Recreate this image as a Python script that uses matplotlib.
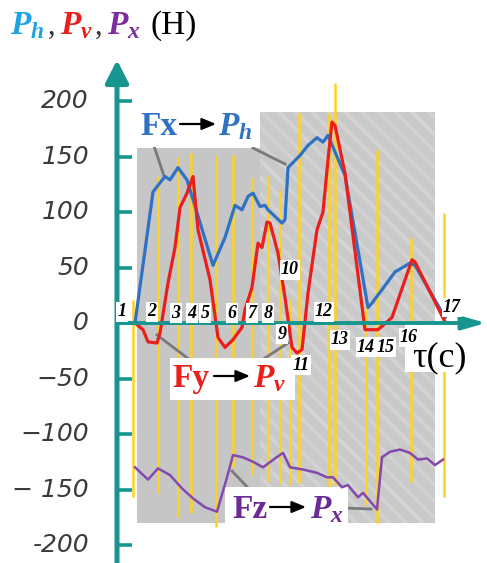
""" Forces on the tool: Ph, Pv, Px over time, with the 17 marked moments """

import matplotlib
matplotlib.use("Agg")
import matplotlib.pyplot as plt
import matplotlib.transforms as mtrans
from matplotlib.patches import Polygon, Rectangle

# Ph (Fx), blue
phTime = [0, 1.8, 2.3, 3.0, 3.5, 4.3, 5.2, 7.8, 9.0, 10.0,
          10.7, 11.3, 11.8, 12.5, 13.0, 13.3, 14.7, 15.0, 15.3, 16.5,
          17.3, 18.2, 18.8, 19.3, 21.0, 23.3, 23.7, 24.7, 26.0, 27.5,
          28.0, 31.0]
phForce = [0, 118, 124, 132, 129, 140, 129, 52, 77, 106,
           102, 114, 117, 105, 106, 102, 90, 93, 140, 151,
           160, 167, 163, 169, 133, 14, 18, 30, 46, 54,
           52, 5]

# Pv (Fy), red
pvTime = [0, 0.8, 1.3, 2.2, 2.5, 3.3, 4.0, 4.5, 5.2, 5.8,
          6.3, 7.5, 8.3, 9.0, 9.8, 10.7, 11.0, 11.7, 12.3, 12.7,
          13.2, 13.5, 14.3, 15.0, 15.7, 16.2, 16.7, 17.3, 18.2, 18.8,
          19.3, 19.7, 20.0, 21.0, 23.0, 24.3, 25.7, 27.7, 28.0, 31.0]
pvForce = [0, -6, -17, -18, -9, 36, 68, 104, 117, 132,
           84, 39, -13, -22, -15, -4, 12, 32, 72, 68,
           91, 90, 63, 23, -22, -27, -24, 27, 84, 100,
           147, 181, 178, 135, -6, -6, 5, 57, 55, 1]

# Px (Fz), purple
pxTime = [0, 1.3, 2.3, 3.5, 4.7, 5.8, 7.0, 8.2, 9.2, 9.8,
          10.8, 11.8, 12.8, 14.0, 14.8, 15.5, 16.8, 18.2, 19.2, 19.8,
          20.7, 21.3, 22.3, 22.8, 24.2, 24.7, 25.5, 26.5, 27.5, 28.3,
          29.2, 30.0, 30.8]
pxForce = [-130, -141, -131, -137, -149, -158, -166, -170, -139, -119,
           -121, -125, -130, -122, -117, -130, -132, -135, -139, -139,
           -148, -146, -157, -153, -168, -121, -116, -114, -117, -123,
           -122, -128, -123]

# the 17 marked moments (yellow lines) and how far each line runs
markTime = [-0.2, 2.3, 4.3, 5.6, 8.1, 9.8, 11.7, 13.3, 14.5, 15.5,
            16.4, 19.4, 20.0, 23.1, 24.2, 27.6, 30.9]
markTop = [21, 132, 150, 153, 151, 151, 131, 132, 120, 21,
           189, 189, 216, 23, 156, 77, 99]
markBottom = [-157, -153, -175, -171, -184, -130, -137, -143, -145, -146,
              -144, -149, -146, -164, -180, -143, -157]
markNames = [str(i) for i in range(1, 18)]

yTicks = [-200, -150, -100, -50, 0, 50, 100, 150, 200]
yTickLabels = ["-200", "− 150", "−100", "−50", "0", "50", "100", "150", "200"]

# where the numbers sit
nameTime = [-1.3, 1.7, 4.1, 5.7, 7.0, 9.7, 11.7, 13.3, 14.7, 15.5,
            16.6, 18.9, 20.5, 23.1, 25.1, 27.4, 31.7]
nameForce = [10, 10, 9, 9, 9, 9, 9, 9, -10, 48,
             -38, 10, -15, -22, -22, -13, 14]

teal = "#17968f"
blue = "#2f72c4"
red = "#ea1f1c"
purple = "#8449ad"

W, H = 487, 563
plt.rcParams["mathtext.fontset"] = "custom"
plt.rcParams["mathtext.it"] = "Liberation Serif:italic:bold"
plt.rcParams["mathtext.rm"] = "Liberation Serif"
plt.rcParams["mathtext.bf"] = "Liberation Serif:bold"
plt.rcParams["hatch.linewidth"] = 2.5

fig = plt.figure(figsize=(W / 100, H / 100), dpi=100)
ax = fig.add_axes([0, 0, 1, 1])
ax.set_xlim(-13.5, 35.2)
ax.set_ylim(-216.2, 291)

# pixel positions measured from the top-left corner
pix = mtrans.Affine2D().scale(1.0 / W, -1.0 / H).translate(0, 1) + fig.transFigure
pixX = mtrans.blended_transform_factory(pix, ax.transData)

for s in ax.spines.values():
    s.set_visible(False)
ax.spines["left"].set_position(("data", -1.8))
ax.set_xticks([])
ax.set_yticks(yTicks)
ax.tick_params(axis="y", direction="in", length=11, width=2.6, color=teal, labelleft=False)

for v, lab in zip(yTicks, yTickLabels):
    ax.text(89, v, lab, transform=pixX, ha="right", va="center", fontsize=18,
            style="italic", family="DejaVu Sans", color="#3a3a3a")

# grey background picture
bgLeft = Polygon([(137, 523), (137, 148), (260, 148), (260, 523)],
                 closed=True, transform=pix, facecolor="#c6c6c6", lw=0, zorder=1)
ax.add_patch(bgLeft)
bgRight = Polygon([(260, 523), (260, 112), (435, 112), (435, 523)],
                  closed=True, transform=pix, facecolor="#c9c9c9", edgecolor="#d3d3d3",
                  hatch="\\\\", lw=0, zorder=1)
ax.add_patch(bgRight)

ax.vlines(markTime, markBottom, markTop, color="#ffd21f", lw=1.8, zorder=2)

# leader lines from labels to curves
for (x1, y1), (x2, y2) in [((154, 146), (164, 176)), ((253, 148), (285, 164)),
                           ((157, 335), (190, 360)), ((265, 358), (288, 343)),
                           ((232, 471), (250, 490)), ((342, 508), (371, 509))]:
    ax.plot([x1, x2], [y1, y2], color="#7a7a7a", lw=2, transform=pix, zorder=2.5)

ax.plot(pxTime, pxForce, color=purple, lw=1.8, zorder=4)
ax.plot(phTime, phForce, color=blue, lw=2.3, zorder=4)
ax.plot(pvTime, pvForce, color=red, lw=2.3, zorder=4)

# white label boxes
for x, y, w, h in [(138, 112, 120, 35), (170, 358, 125, 42), (225, 487, 123, 36), (405, 324, 82, 48)]:
    ax.add_patch(Rectangle((x, y), w, h, transform=pix, facecolor="white", lw=0, zorder=3.5))

# axes with arrows
ax.annotate("", xy=(-1.8, 237), xytext=(-1.8, -216.2),
            arrowprops=dict(arrowstyle="-|>,head_length=0.55,head_width=0.28", mutation_scale=25,
                            lw=3.6, color=teal, shrinkA=0, shrinkB=0), zorder=5)
ax.annotate("", xy=(35.1, 0), xytext=(-1.8, 0),
            arrowprops=dict(arrowstyle="-|>,head_length=0.7,head_width=0.2", mutation_scale=20,
                            lw=2.8, color=teal, shrinkA=0, shrinkB=0), zorder=5)

for t, v, name in zip(nameTime, nameForce, markNames):
    ax.text(t, v, name, ha="center", va="center", fontsize=13, family="Liberation Serif",
            weight="bold", style="italic", zorder=6,
            bbox=dict(facecolor="white", edgecolor="none", pad=1))

# title of the y axis
ax.text(10, 34, "$P_h$", color="#1fa3e2", fontsize=24, transform=pix, va="baseline")
ax.text(48, 34, ",", color="#333333", fontsize=22, family="Liberation Serif", transform=pix, va="baseline")
ax.text(60, 34, "$P_v$", color=red, fontsize=24, transform=pix, va="baseline")
ax.text(95, 34, ",", color="#333333", fontsize=22, family="Liberation Serif", transform=pix, va="baseline")
ax.text(107, 34, "$P_x$", color="#7b2ca3", fontsize=24, transform=pix, va="baseline")
ax.text(150, 34, "(H)", color="black", fontsize=24, family="Liberation Serif", transform=pix, va="baseline")

# curve labels
for xF, xA, xP, base, name, sym, col in [(140, 180, 218, 135, "Fx", "$P_h$", blue),
                                         (172, 214, 253, 387, "Fy", "$P_v$", red),
                                         (232, 270, 310, 518, "Fz", "$P_x$", "#6b2a98")]:
    ax.text(xF, base, name, color=col, fontsize=24, family="Liberation Serif", weight="bold",
            transform=pix, va="baseline", zorder=6)
    ax.annotate("", xy=(xA + 36, base - 11), xytext=(xA, base - 11), xycoords=pix, textcoords=pix,
                arrowprops=dict(arrowstyle="-|>,head_length=0.6,head_width=0.25", mutation_scale=14,
                                lw=1.6, color="black", shrinkA=0, shrinkB=0), zorder=6)
    ax.text(xP, base, sym, color=col, fontsize=24, transform=pix, va="baseline", zorder=6)

ax.text(412, 366, "τ(c)", fontsize=26, family=["Liberation Serif", "DejaVu Serif"],
        transform=pix, va="baseline", zorder=6)

plt.savefig("out.png", dpi=100)
